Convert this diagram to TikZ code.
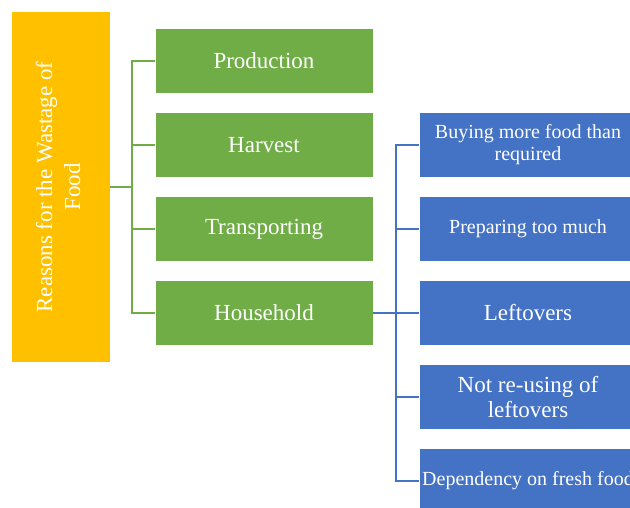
\documentclass[tikz,border=0pt]{standalone}
\usepackage{fontspec}
\setmainfont{Liberation Serif}
\definecolor{oorange}{HTML}{FFC000}
\definecolor{ogreen}{HTML}{70AD47}
\definecolor{oblue}{HTML}{4472C4}
\tikzset{
  rootbox/.style={fill=oorange, draw=white, line width=0.6pt, minimum width=99pt, minimum height=351pt, inner sep=0pt, text=white},
  greenbox/.style={fill=ogreen, draw=white, line width=0.6pt, minimum width=218pt, minimum height=65pt, inner sep=0pt, text=white, font=\fontsize{23}{25}\selectfont, align=center},
  bluebox/.style={fill=oblue, draw=white, line width=0.6pt, minimum width=218pt, minimum height=65pt, inner sep=0pt, text=white, align=center},
  gline/.style={draw=ogreen, line width=1.4pt},
  bline/.style={draw=oblue, line width=1.4pt},
}
\begin{document}
\begin{tikzpicture}[x=1pt,y=-1pt]
\useasboundingbox (0,0) rectangle (630,508);
\clip (0,0) rectangle (630,508);
\fill[white] (0,0) rectangle (630,508);
\node[rootbox] (root) at (60.5,187) {\rotatebox{90}{\fontsize{23}{28}\selectfont\begin{tabular}{@{}c@{}}Reasons for the Wastage of\\Food\end{tabular}}};
\node[greenbox] (prod) at (264,61) {Production};
\node[greenbox] (harv) at (264,145) {Harvest};
\node[greenbox] (trans) at (264,229) {Transporting};
\node[greenbox] (house) at (264,313) {Household};
\node[bluebox, font=\fontsize{20}{22}\selectfont] (buy) at (528,145) {Buying more food than\\required};
\node[bluebox, font=\fontsize{20}{22}\selectfont] (prep) at (528,229) {Preparing too much};
\node[bluebox, font=\fontsize{23}{25}\selectfont] (left) at (528,313) {Leftovers};
\node[bluebox, font=\fontsize{23}{25}\selectfont] (reuse) at (528,397) {Not re-using of\\leftovers};
\node[bluebox, font=\fontsize{20}{22}\selectfont] (dep) at (528,481) {Dependency on fresh food};
\coordinate (gj) at (132,187);
\draw[gline] (root.east) -- (gj);
\foreach \n in {prod,harv,trans,house} \draw[gline] (gj) |- (\n.west);
\coordinate (bj) at (396,313);
\draw[bline] (house.east) -- (bj);
\foreach \n in {buy,prep,left,reuse,dep} \draw[bline] (bj) |- (\n.west);
\end{tikzpicture}
\end{document}
